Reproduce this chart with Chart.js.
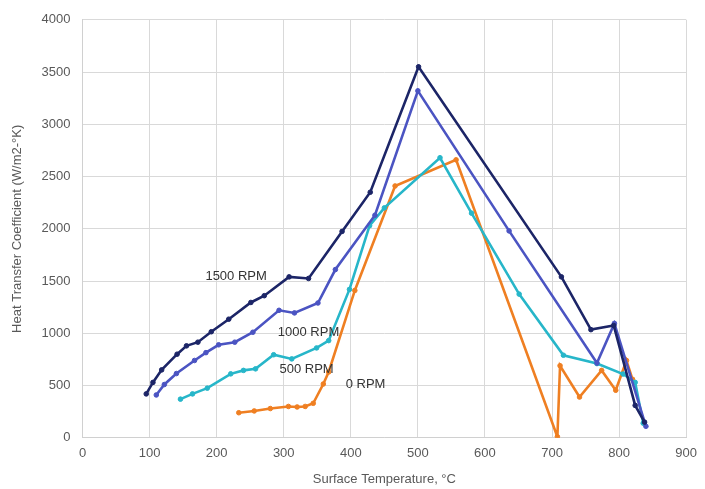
<!DOCTYPE html>
<html>
<head>
<meta charset="utf-8">
<script src="https://cdn.jsdelivr.net/npm/chart.js@4"></script>
<style>
  html, body { margin: 0; padding: 0; background: #fff; }
  #wrap { width: 705px; height: 489px; }
</style>
</head>
<body>
<div id="wrap"><canvas id="grafico" width="705" height="489"></canvas></div>
<script>
// Datos
const temp1500 = [95, 105, 118, 141, 155, 172, 192, 218, 251, 271, 308, 337, 387, 429, 501, 714, 758, 792, 824, 838];
const htc1500  = [420, 530, 650, 800, 880, 915, 1015, 1135, 1295, 1360, 1540, 1525, 1975, 2350, 3550, 1540, 1035, 1075, 310, 150];

const temp1000 = [110, 122, 140, 167, 184, 203, 227, 254, 293, 316, 351, 377, 436, 500, 636, 767, 793, 840];
const htc1000  = [410, 510, 615, 740, 815, 890, 915, 1010, 1220, 1195, 1290, 1610, 2130, 3320, 1980, 715, 1095, 110];

const temp500 = [146, 164, 186, 221, 240, 258, 285, 312, 349, 367, 398, 428, 450, 533, 580, 651, 717, 767, 806, 824, 836];
const htc500  = [370, 420, 475, 612, 645, 660, 795, 755, 860, 930, 1420, 2030, 2200, 2680, 2150, 1375, 790, 710, 610, 530, 140];

const temp0 = [233, 256, 280, 307, 320, 332, 344, 359, 367, 406, 466, 557, 708, 712, 741, 774, 795, 811, 820];
const htc0  = [240, 257, 280, 300, 295, 300, 330, 515, 630, 1410, 2410, 2660, 10, 690, 390, 645, 455, 740, 560];

const xTicks = [0, 100, 200, 300, 400, 500, 600, 700, 800, 900];
const yTicks = [0, 500, 1000, 1500, 2000, 2500, 3000, 3500, 4000];

// Etiquetas de series (en coordenadas de datos)
const etiquetas = [
  { text: "1500 RPM", x: 229, y: 1540 },
  { text: "1000 RPM", x: 337, y: 1010 },
  { text: "500 RPM",  x: 334, y: 657 },
  { text: "0 RPM",    x: 422, y: 514 }
];

const FONT = "'Liberation Sans', Arial, sans-serif";

function puntos(xs, ys) {
  return xs.map((x, i) => ({ x: x, y: ys[i] }));
}

function serie(label, xs, ys, color) {
  return {
    label: label,
    data: puntos(xs, ys),
    showLine: true,
    borderColor: color,
    backgroundColor: color,
    borderWidth: 2.6,
    pointRadius: 2.3,
    pointBorderWidth: 1,
    pointHoverRadius: 2.3,
    tension: 0
  };
}

const etiquetasPlugin = {
  id: "etiquetas",
  afterDatasetsDraw(chart) {
    const { ctx, scales } = chart;
    ctx.save();
    ctx.font = "13px " + FONT;
    ctx.fillStyle = "#333333";
    ctx.textAlign = "center";
    ctx.textBaseline = "middle";
    etiquetas.forEach(e => {
      ctx.fillText(e.text, scales.x.getPixelForValue(e.x), scales.y.getPixelForValue(e.y));
    });
    ctx.restore();
  }
};

const ctx = document.getElementById("grafico").getContext("2d");

new Chart(ctx, {
  type: "scatter",
  data: {
    datasets: [
      serie("1500 RPM", temp1500, htc1500, "#1c2567"),
      serie("1000 RPM", temp1000, htc1000, "#4b54c2"),
      serie("500 RPM", temp500, htc500, "#27b6c9"),
      serie("0 RPM", temp0, htc0, "#ef7f22")
    ]
  },
  options: {
    responsive: false,
    animation: false,
    layout: { padding: { top: 2, right: -3, left: 10, bottom: 2 } },
    plugins: {
      legend: { display: false },
      tooltip: { enabled: false }
    },
    scales: {
      x: {
        type: "linear",
        min: 0,
        max: 900,
        afterBuildTicks(axis) { axis.ticks = xTicks.map(v => ({ value: v })); },
        grid: { color: "#d9d9d9", drawTicks: false },
        border: { color: "#d0d0d0" },
        ticks: {
          color: "#595959", font: { family: FONT, size: 13 }, padding: 8,
          callback: v => String(v)
        },
        title: {
          display: true,
          text: "Surface Temperature, °C",
          color: "#595959",
          font: { family: FONT, size: 13 },
          padding: { top: 2, bottom: 0 }
        }
      },
      y: {
        type: "linear",
        min: 0,
        max: 4000,
        afterBuildTicks(axis) { axis.ticks = yTicks.map(v => ({ value: v })); },
        grid: { color: "#d9d9d9", drawTicks: false },
        border: { color: "#d0d0d0" },
        ticks: {
          color: "#595959", font: { family: FONT, size: 13 }, padding: 12,
          callback: v => String(v)
        },
        title: {
          display: true,
          text: "Heat Transfer Coefficient (W/m2-°K)",
          color: "#595959",
          font: { family: FONT, size: 13 },
          padding: { top: 0, bottom: 4 }
        }
      }
    }
  },
  plugins: [etiquetasPlugin]
});
</script>
</body>
</html>
